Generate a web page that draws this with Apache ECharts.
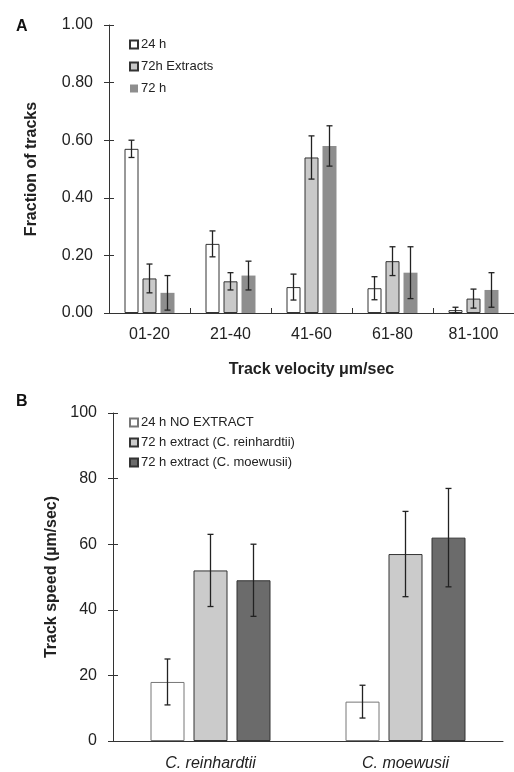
<!DOCTYPE html>
<html>
<head>
<meta charset="utf-8">
<script src="https://cdn.jsdelivr.net/npm/echarts@6/dist/echarts.min.js"></script>
<style>
    html, body {margin: 0; padding: 0; background: #fff;}
    #chart {width: 514px; height: 772px;}
</style>
</head>
<body>
<div id="chart"></div>
<script>
// 面板 A 数据
const velocityBins = ['01-20', '21-40', '41-60', '61-80', '81-100']
const frac24h = [0.57, 0.24, 0.09, 0.086, 0.01]
const frac24hErr = [0.03, 0.045, 0.045, 0.04, 0.01]
const frac72hExt = [0.12, 0.11, 0.54, 0.18, 0.05]
const frac72hExtErr = [0.05, 0.03, 0.075, 0.05, 0.033]
const frac72h = [0.07, 0.13, 0.58, 0.14, 0.08]
const frac72hErr = [0.06, 0.05, 0.07, 0.09, 0.06]

// 面板 B 数据
const species = ['C. reinhardtii', 'C. moewusii']
const speedNoExtract = [18, 12]
const speedNoExtractErr = [7, 5]
const speedExtReinhardtii = [52, 57]
const speedExtReinhardtiiErr = [11, 13]
const speedExtMoewusii = [49, 62]
const speedExtMoewusiiErr = [11, 15]

const FONT = 'Liberation Sans, Arial, sans-serif'
const TEXT = '#222'
const LINE = '#333'

// 误差线数据 [类目索引, 下限, 上限]
function errData(values, errs) {
    return values.map((v, i) => [i, Math.max(0, v - errs[i]), v + errs[i]])
}

// 自定义误差线系列, offset 为相对类目中心的像素偏移
function errorSeries(values, errs, xi, yi, offset, cap) {
    return {
        type: 'custom',
        xAxisIndex: xi,
        yAxisIndex: yi,
        silent: true,
        z: 10,
        data: errData(values, errs),
        renderItem: function (params, api) {
            const lo = api.coord([api.value(0), api.value(1)])
            const hi = api.coord([api.value(0), api.value(2)])
            const x = lo[0] + offset
            const style = {stroke: '#222', lineWidth: 1.3}
            return {
                type: 'group',
                children: [
                    {type: 'line', shape: {x1: x, y1: lo[1], x2: x, y2: hi[1]}, style: style},
                    {type: 'line', shape: {x1: x - cap, y1: lo[1], x2: x + cap, y2: lo[1]}, style: style},
                    {type: 'line', shape: {x1: x - cap, y1: hi[1], x2: x + cap, y2: hi[1]}, style: style}
                ]
            }
        }
    }
}

const A_BAR = 14, A_GAP = 4
const B_BAR = 34, B_GAP = 9

const yLabel = {color: TEXT, fontFamily: FONT, fontSize: 16, margin: 16}
const nameStyle = {color: TEXT, fontFamily: FONT, fontSize: 16, fontWeight: 'bold'}

const option = {
    animation: false,
    backgroundColor: '#fff',
    title: [
        {text: 'A', left: 11, top: 14, textStyle: {fontFamily: FONT, fontSize: 16, fontWeight: 'bold', color: '#111'}},
        {text: 'B', left: 11, top: 389, textStyle: {fontFamily: FONT, fontSize: 16, fontWeight: 'bold', color: '#111'}}
    ],
    legend: [
        {
            orient: 'vertical', left: 124, top: 33,
            icon: 'rect',
            itemWidth: 8, itemHeight: 8, itemGap: 9,
            textStyle: {fontFamily: FONT, fontSize: 13, color: TEXT, padding: [0, 0, 0, -2]},
            data: ['24 h', '72h Extracts', '72 h']
        },
        {
            orient: 'vertical', left: 124, top: 411,
            icon: 'rect',
            itemWidth: 8, itemHeight: 8, itemGap: 7,
            textStyle: {fontFamily: FONT, fontSize: 13, color: TEXT, padding: [0, 0, 0, -2]},
            data: ['24 h NO EXTRACT', '72 h extract (C. reinhardtii)', '72 h extract (C. moewusii)']
        }
    ],
    grid: [
        {left: 109, top: 25, width: 405, height: 288},
        {left: 113, top: 413, width: 390, height: 330}
    ],
    xAxis: [
        {
            type: 'category', gridIndex: 0, data: velocityBins, position: 'bottom',
            name: 'Track velocity \u03bcm/sec', nameLocation: 'middle', nameGap: 49,
            nameTextStyle: nameStyle,
            axisLine: {lineStyle: {color: LINE}},
            axisTick: {length: 5, lineStyle: {color: LINE}},
            axisLabel: {color: TEXT, fontFamily: FONT, fontSize: 16, margin: 14}
        },
        {
            // 刻度向内的副轴, 使刻度穿过轴线
            type: 'category', gridIndex: 0, data: velocityBins, position: 'bottom',
            axisLine: {show: false, onZero: false},
            axisTick: {show: true, inside: true, length: 5, lineStyle: {color: LINE}},
            axisLabel: {show: false}
        },
        {
            type: 'category', gridIndex: 1, data: species, position: 'bottom',
            axisLine: {lineStyle: {color: LINE}},
            axisTick: {show: false},
            axisLabel: {color: TEXT, fontFamily: FONT, fontSize: 16, fontStyle: 'italic', margin: 15}
        }
    ],
    yAxis: [
        {
            type: 'value', gridIndex: 0, min: 0, max: 1, interval: 0.2, position: 'left',
            name: 'Fraction of tracks', nameLocation: 'middle', nameGap: 69,
            nameTextStyle: nameStyle,
            axisLine: {show: true, lineStyle: {color: LINE}},
            axisTick: {show: true, length: 5, lineStyle: {color: LINE}},
            splitLine: {show: false},
            axisLabel: Object.assign({formatter: v => v.toFixed(2)}, yLabel)
        },
        {
            type: 'value', gridIndex: 0, min: 0, max: 1, interval: 0.2, position: 'left',
            axisLine: {show: false},
            axisTick: {show: true, inside: true, length: 5, lineStyle: {color: LINE}},
            splitLine: {show: false},
            axisLabel: {show: false}
        },
        {
            type: 'value', gridIndex: 1, min: 0, max: 100, interval: 20, position: 'left',
            name: 'Track speed (\u00b5m/sec)', nameLocation: 'middle', nameGap: 51,
            nameTextStyle: nameStyle,
            axisLine: {show: true, lineStyle: {color: LINE}},
            axisTick: {show: true, length: 5, lineStyle: {color: LINE}},
            splitLine: {show: false},
            axisLabel: yLabel
        },
        {
            type: 'value', gridIndex: 1, min: 0, max: 100, interval: 20, position: 'left',
            axisLine: {show: false},
            axisTick: {show: true, inside: true, length: 5, lineStyle: {color: LINE}},
            splitLine: {show: false},
            axisLabel: {show: false}
        }
    ],
    series: [
        {
            name: '24 h', type: 'bar', xAxisIndex: 0, yAxisIndex: 0, data: frac24h,
            barWidth: A_BAR, barGap: (A_GAP / A_BAR * 100) + '%',
            itemStyle: {color: '#ffffff', borderColor: '#333', borderWidth: 1}
        },
        {
            name: '72h Extracts', type: 'bar', xAxisIndex: 0, yAxisIndex: 0, data: frac72hExt,
            barWidth: A_BAR, barGap: (A_GAP / A_BAR * 100) + '%',
            itemStyle: {color: '#c9c9c9', borderColor: '#333', borderWidth: 1}
        },
        {
            name: '72 h', type: 'bar', xAxisIndex: 0, yAxisIndex: 0, data: frac72h,
            barWidth: A_BAR, barGap: (A_GAP / A_BAR * 100) + '%',
            itemStyle: {color: '#8e8e8e'}
        },
        errorSeries(frac24h, frac24hErr, 0, 0, -(A_BAR + A_GAP), 3),
        errorSeries(frac72hExt, frac72hExtErr, 0, 0, 0, 3),
        errorSeries(frac72h, frac72hErr, 0, 0, A_BAR + A_GAP, 3),
        {
            name: '24 h NO EXTRACT', type: 'bar', xAxisIndex: 2, yAxisIndex: 2, data: speedNoExtract,
            barWidth: B_BAR, barGap: (B_GAP / B_BAR * 100) + '%',
            itemStyle: {color: '#ffffff', borderColor: '#777', borderWidth: 1}
        },
        {
            name: '72 h extract (C. reinhardtii)', type: 'bar', xAxisIndex: 2, yAxisIndex: 2, data: speedExtReinhardtii,
            barWidth: B_BAR, barGap: (B_GAP / B_BAR * 100) + '%',
            itemStyle: {color: '#cbcbcb', borderColor: '#333', borderWidth: 1}
        },
        {
            name: '72 h extract (C. moewusii)', type: 'bar', xAxisIndex: 2, yAxisIndex: 2, data: speedExtMoewusii,
            barWidth: B_BAR, barGap: (B_GAP / B_BAR * 100) + '%',
            itemStyle: {color: '#6b6b6b', borderColor: '#333', borderWidth: 1}
        },
        errorSeries(speedNoExtract, speedNoExtractErr, 2, 2, -(B_BAR + B_GAP), 3),
        errorSeries(speedExtReinhardtii, speedExtReinhardtiiErr, 2, 2, 0, 3),
        errorSeries(speedExtMoewusii, speedExtMoewusiiErr, 2, 2, B_BAR + B_GAP, 3)
    ]
}

const myChart = echarts.init(document.getElementById('chart'))
myChart.setOption(option)
</script>
</body>
</html>
